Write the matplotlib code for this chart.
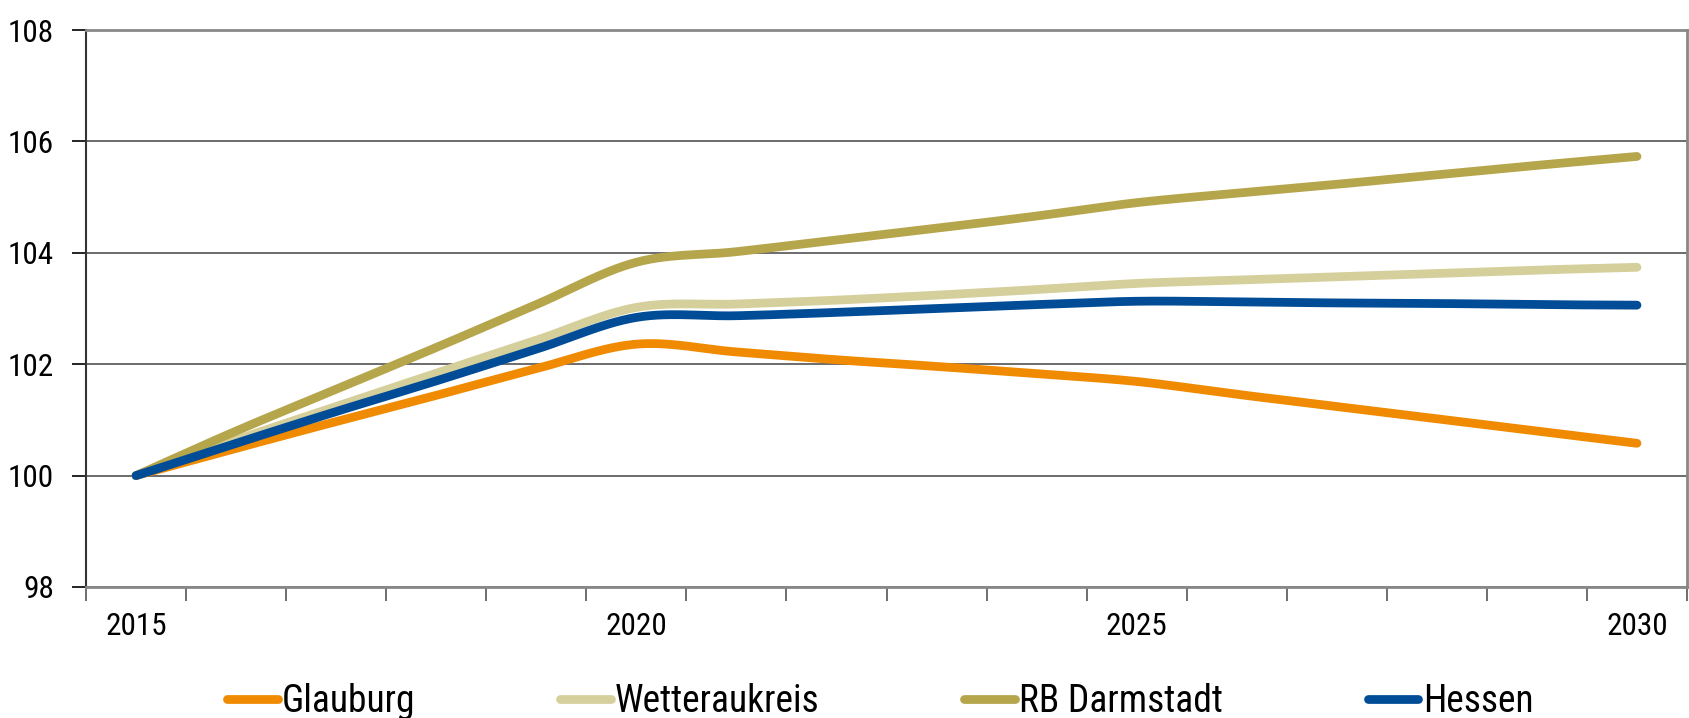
import numpy as np
import matplotlib
matplotlib.use("Agg")
import matplotlib.pyplot as plt
from matplotlib import font_manager

jahre = list(range(2015, 2031))
glauburg = [100.0, 100.49, 100.97, 101.44, 101.92, 102.36, 102.22, 102.08,
            101.96, 101.83, 101.69, 101.46, 101.24, 101.02, 100.80, 100.58]
wetteraukreis = [100.0, 100.64, 101.24, 101.84, 102.43, 103.02, 103.08, 103.15,
                 103.24, 103.34, 103.45, 103.51, 103.57, 103.63, 103.69, 103.74]
rb_darmstadt = [100.0, 100.80, 101.55, 102.30, 103.07, 103.83, 104.02, 104.23,
                104.44, 104.66, 104.90, 105.07, 105.23, 105.40, 105.57, 105.73]
hessen = [100.0, 100.58, 101.15, 101.70, 102.27, 102.84, 102.87, 102.93,
          103.00, 103.07, 103.13, 103.12, 103.10, 103.09, 103.07, 103.06]

serien = ["Glauburg", "Wetteraukreis", "RB Darmstadt", "Hessen"]
farben = ["#F08A00", "#D5CF9C", "#B5A54B", "#004C97"]
x_labels = [2015, 2020, 2025, 2030]
y_ticks = [98, 100, 102, 104, 106, 108]

# ---------------- Schrift (schmale Schrift bevorzugt)
eintraege = font_manager.fontManager.ttflist
namen = {f.name for f in eintraege}
schrift, dehnung = None, "normal"
for kandidat in ["Liberation Sans Narrow", "Arial Narrow", "Roboto Condensed",
                 "Open Sans Condensed", "Nimbus Sans Narrow"]:
    if kandidat in namen:
        schrift = kandidat
        break
if schrift is None:
    for f in eintraege:
        if f.name in ("DejaVu Sans", "Noto Sans", "Open Sans") and \
                str(f.stretch) in ("condensed", "semi-condensed", "extra-condensed", "75", "87.5"):
            schrift, dehnung = f.name, f.stretch
            break
if schrift is None:
    schrift = "Liberation Sans"
    gr_tick, gr_leg = 20, 24
else:
    gr_tick, gr_leg = 22.5, 27
plt.rcParams["font.family"] = [schrift, "DejaVu Sans"]
plt.rcParams["font.stretch"] = dehnung


# ---------------- Geglaettete Linie (wie Excel: Catmull-Rom als Bezier)
def glatt(xs, ys, n=30):
    p = np.column_stack([xs, ys]).astype(float)
    p = np.vstack([p[0], p, p[-1]])
    kurve = []
    for i in range(1, len(p) - 2):
        p0, p1, p2, p3 = p[i - 1], p[i], p[i + 1], p[i + 2]
        b1 = p1 + (p2 - p0) / 6
        b2 = p2 - (p3 - p1) / 6
        t = np.linspace(0, 1, n)[:, None]
        seg = ((1 - t) ** 3) * p1 + 3 * ((1 - t) ** 2) * t * b1 \
            + 3 * (1 - t) * t ** 2 * b2 + t ** 3 * p2
        kurve.append(seg if i == 1 else seg[1:])
    kurve = np.vstack(kurve)
    return kurve[:, 0], kurve[:, 1]


fig = plt.figure(figsize=(16.9, 7.18), dpi=100)
ax = fig.add_axes([86 / 1690, 1 - 587 / 718, 1601 / 1690, 557 / 718])

for name, werte, farbe in zip(serien, [glauburg, wetteraukreis, rb_darmstadt, hessen], farben):
    gx, gy = glatt(jahre, werte)
    ax.plot(gx, gy, color=farbe, lw=6.3, solid_capstyle="round", label=name, zorder=3)

ax.set_xlim(2014.5, 2030.5)
ax.set_ylim(98, 108)

# y-Achse
ax.set_yticks(y_ticks)
ax.set_yticklabels([str(v) for v in y_ticks], fontsize=gr_tick)
ax.tick_params(axis="y", length=10, width=1.2, pad=13, colors="black")
ax.grid(axis="y", color="#444444", lw=1.1, zorder=1)

# x-Achse: Striche an Kategoriegrenzen, Beschriftung in der Mitte
ax.set_xticks(np.arange(2014.5, 2031, 1.0))
ax.set_xticklabels([])
ax.tick_params(axis="x", which="major", length=10, width=1.2, color="#555555")
ax.set_xticks(x_labels, minor=True)
ax.set_xticklabels([str(v) for v in x_labels], minor=True, fontsize=gr_tick)
ax.tick_params(axis="x", which="minor", length=0, pad=18)

for s in ["top", "right", "bottom"]:
    ax.spines[s].set_color("#888888")
    ax.spines[s].set_linewidth(2)
ax.spines["left"].set_color("#333333")
ax.spines["left"].set_linewidth(1.5)

# Legende
ax.legend(loc="center left", bbox_to_anchor=(227 / 1690, 1 - 702 / 718),
          bbox_transform=fig.transFigure, ncol=4, frameon=False,
          fontsize=gr_leg, handlelength=1.35, handletextpad=0.12,
          columnspacing=3.85, borderpad=0, borderaxespad=0)

fig.savefig("out.png", dpi=100)
